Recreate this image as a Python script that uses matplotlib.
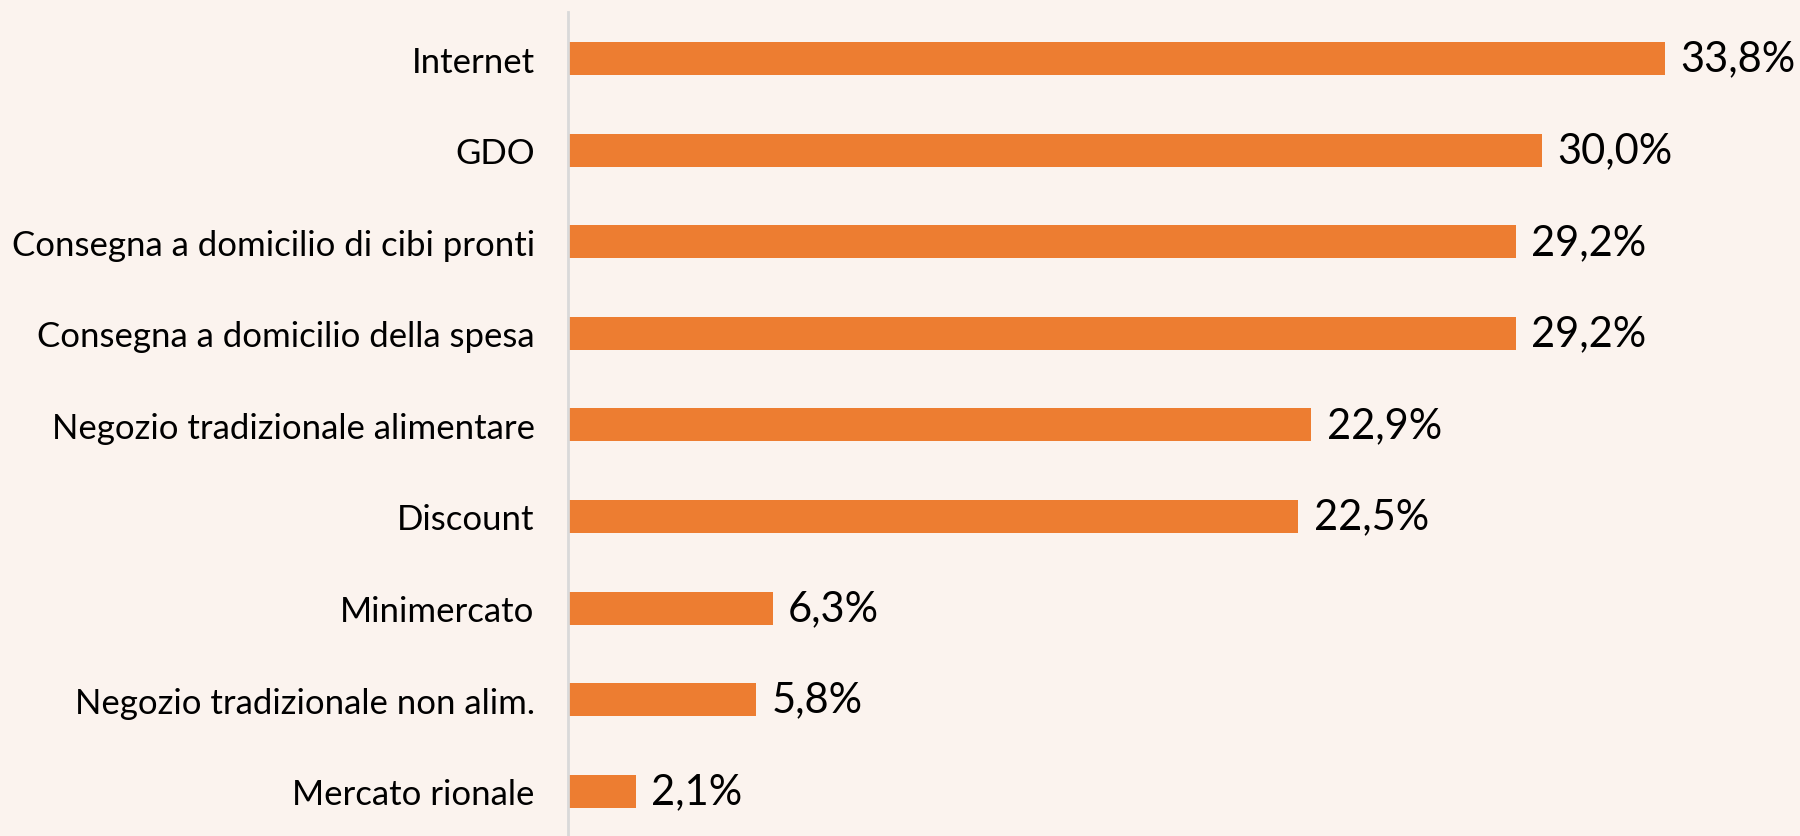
import matplotlib.pyplot as plt

categories = ['Internet', 'GDO', 'Consegna a domicilio di cibi pronti',
              'Consegna a domicilio della spesa', 'Negozio tradizionale alimentare',
              'Discount', 'Minimercato', 'Negozio tradizionale non alim.',
              'Mercato rionale']
values = [33.8, 30.0, 29.2, 29.2, 22.9, 22.5, 6.3, 5.8, 2.1]

bg = '#FBF3EE'
orange = '#ED7D31'

plt.rcParams['font.family'] = ['Lato', 'DejaVu Sans']

fig = plt.figure(figsize=(18, 8.37), dpi=100, facecolor=bg)
ax = fig.add_axes([568 / 1800, 0, 1 - 568 / 1800, 1 - 13 / 837])
ax.set_facecolor(bg)

y = list(range(len(categories)))[::-1]
bars = ax.barh(y, values, height=0.36, color=orange)
ax.bar_label(bars, labels=[f'{v:.1f}%'.replace('.', ',') for v in values],
             padding=11, fontsize=30, color='black')

ax.set_xlim(0, 37.95)
ax.set_ylim(-0.49, 8.51)
ax.set_yticks(y)
ax.set_yticklabels(categories, fontsize=25)
ax.tick_params(axis='y', length=0, pad=24)
ax.set_xticks([])

for s in ['top', 'right', 'bottom']:
    ax.spines[s].set_visible(False)
ax.spines['left'].set_color('#D9D9D9')
ax.spines['left'].set_linewidth(2)

fig.savefig('out.png', dpi=100, facecolor=bg)
